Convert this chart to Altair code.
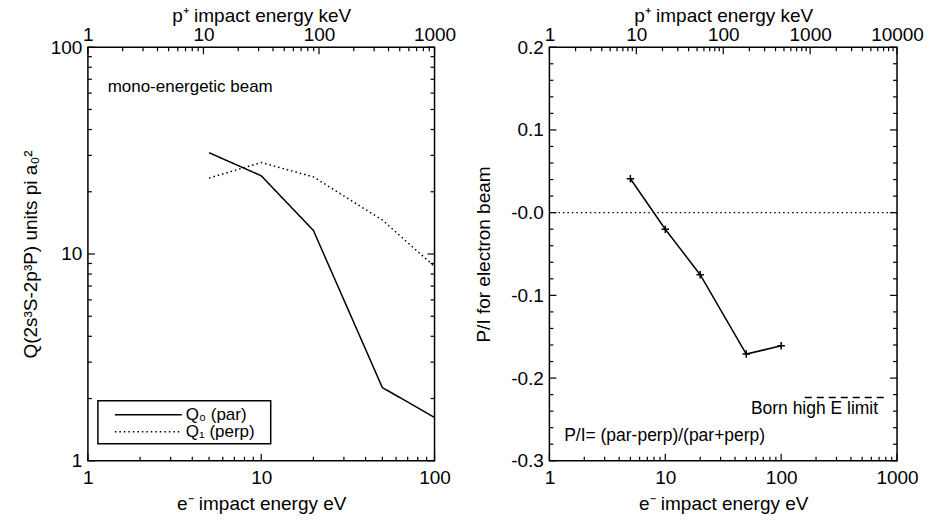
import altair as alt
import pandas as pd

FONT = "Liberation Sans"
H = 414
W_LEFT, W_RIGHT = 347, 348

# ---------------- data ----------------
# left panel: cross sections (units pi a0^2) vs e- impact energy (eV)
q_ev = [5, 10, 20, 50, 100]
q0_par = [30.9, 23.9, 13.0, 2.26, 1.62]
q1_perp = [23.3, 27.7, 23.6, 14.6, 8.7]
series_names = ["Q\u2080 (par)", "Q\u2081 (perp)"]

# right panel: polarisation P/I vs e- impact energy (eV)
pi_ev = [5, 10, 20, 50, 100]
pi_val = [0.041, -0.020, -0.075, -0.171, -0.161]
zero_ev = [1, 1000]
zero_val = [0.0, 0.0]
born_ev = [160, 800]
born_val = [-0.2235, -0.2235]

# axes
left_x_major = [1, 10, 100]
left_top_major = [1, 10, 100, 1000]
left_y_major = [1, 10, 100]
right_x_major = [1, 10, 100, 1000]
right_top_major = [1, 10, 100, 1000, 10000]
right_y_major = [-0.3, -0.2, -0.1, 0.0, 0.1, 0.2]
right_y_minor = [round(-0.3 + 0.02 * i, 2) for i in range(26) if i % 5 != 0]


def log_minor(majors):
    out = []
    for a in majors[:-1]:
        out += [a * m for m in range(2, 10)]
    return out


# tick symbol sizes (custom path spans sqrt(size)/2 px)
MAJ_SIZE, MIN_SIZE = 196, 64


def lab_axis(orient, values, title, fmt=None, label_expr=None, pad=4, tpad=4):
    kw = dict(orient=orient, values=values, ticks=False, domain=False,
              grid=False, labelFlush=False, labelOverlap=False,
              labelPadding=pad, titlePadding=tpad,
              labelFont=FONT, titleFont=FONT, labelFontSize=19, titleFontSize=19,
              titleFontWeight="normal", labelColor="black", titleColor="black")
    kw["title"] = title
    if label_expr is not None:
        kw["labelExpr"] = label_expr
    elif fmt is not None:
        kw["format"] = fmt
    return alt.Axis(**kw)


def dummy(x, y):
    return pd.DataFrame({"x": [x], "y": [y]})


def tick_mark(path, size):
    return dict(shape=path, size=size, stroke="black", strokeWidth=1.2, filled=False, opacity=1)


def x_ticks(vals, xscale, edge, yscale, path, size):
    d = pd.DataFrame({"v": vals, "e": [edge] * len(vals)})
    return alt.Chart(d).mark_point(**tick_mark(path, size)).encode(
        x=alt.X("v:Q", scale=xscale, axis=None), y=alt.Y("e:Q", scale=yscale, axis=None))


def y_ticks(vals, yscale, edge, xscale, path, size):
    d = pd.DataFrame({"v": vals, "e": [edge] * len(vals)})
    return alt.Chart(d).mark_point(**tick_mark(path, size)).encode(
        y=alt.Y("v:Q", scale=yscale, axis=None), x=alt.X("e:Q", scale=xscale, axis=None))


def panel(W, xdom, topdom, ydom, ylog, xmaj, topmaj, ymaj, ymin, ytitle, ylabexpr, ytpad, content):
    xs = alt.Scale(type="log", domain=xdom)
    ts = alt.Scale(type="log", domain=topdom)
    ys = alt.Scale(type="log", domain=ydom) if ylog else alt.Scale(type="linear", domain=ydom, zero=False, nice=False)
    yfmt = "d" if ylog else None
    base = alt.Chart(dummy(xdom[0], ydom[0])).mark_point(opacity=0)
    base_t = alt.Chart(dummy(topdom[0], ydom[0])).mark_point(opacity=0)
    layers = [
        base.encode(
            x=alt.X("x:Q", scale=xs, axis=lab_axis("bottom", xmaj, "e\u207b impact energy eV", fmt="d", pad=8, tpad=7)),
            y=alt.Y("y:Q", scale=ys, axis=lab_axis("left", ymaj, ytitle, fmt=yfmt, label_expr=ylabexpr, pad=6, tpad=ytpad))),
        base_t.encode(
            x=alt.X("x:Q", scale=ts, axis=lab_axis("top", topmaj, "p\u207a impact energy keV", fmt="d", pad=3, tpad=0))),
        # inward ticks: bottom (eV), top (keV), left and right edges
        x_ticks(xmaj, xs, ydom[0], ys, "M0,0V-1", MAJ_SIZE),
        x_ticks(log_minor(xmaj), xs, ydom[0], ys, "M0,0V-1", MIN_SIZE),
        x_ticks(topmaj, ts, ydom[1], ys, "M0,0V1", MAJ_SIZE),
        x_ticks(log_minor(topmaj), ts, ydom[1], ys, "M0,0V1", MIN_SIZE),
        y_ticks(ymaj, ys, xdom[0], xs, "M0,0H1", MAJ_SIZE),
        y_ticks(ymin, ys, xdom[0], xs, "M0,0H1", MIN_SIZE),
        y_ticks(ymaj, ys, xdom[1], xs, "M0,0H-1", MAJ_SIZE),
        y_ticks(ymin, ys, xdom[1], xs, "M0,0H-1", MIN_SIZE),
    ]
    layers += content(xs, ys)
    return alt.layer(*layers).resolve_scale(x="independent", y="independent").resolve_axis(
        x="independent", y="independent").properties(width=W, height=H)


def left_content(xs, ys):
    df = pd.DataFrame({
        "ev": q_ev + q_ev,
        "q": q0_par + q1_perp,
        "s": [series_names[0]] * len(q_ev) + [series_names[1]] * len(q_ev),
    })
    lines = alt.Chart(df).mark_line(color="black", strokeWidth=1.5).encode(
        x=alt.X("ev:Q", scale=xs, axis=None),
        y=alt.Y("q:Q", scale=ys, axis=None),
        strokeDash=alt.StrokeDash("s:N", scale=alt.Scale(domain=series_names, range=[[1, 0], [1.5, 3]]), legend=None),
    )
    note = alt.Chart(pd.DataFrame({"x": [1.30], "y": [64.0], "t": ["mono-energetic beam"]})).mark_text(
        align="left", baseline="middle", font=FONT, fontSize=17, color="black").encode(
        x=alt.X("x:Q", scale=xs, axis=None), y=alt.Y("y:Q", scale=ys, axis=None), text="t:N")
    one = pd.DataFrame({"a": [0]})
    box = alt.Chart(one).mark_rect(fill="white", stroke="black", strokeWidth=1.5).encode(
        x=alt.value(10), x2=alt.value(183), y=alt.value(354), y2=alt.value(397))
    leg_solid = alt.Chart(one).mark_rule(color="black", strokeWidth=1.5).encode(
        x=alt.value(27), x2=alt.value(94), y=alt.value(368))
    leg_dot = alt.Chart(one).mark_rule(color="black", strokeWidth=1.5, strokeDash=[1.5, 3]).encode(
        x=alt.value(27), x2=alt.value(94), y=alt.value(385))
    leg_t1 = alt.Chart(pd.DataFrame({"t": [series_names[0]]})).mark_text(
        align="left", baseline="middle", font=FONT, fontSize=17, color="black").encode(
        x=alt.value(98), y=alt.value(368), text="t:N")
    leg_t2 = alt.Chart(pd.DataFrame({"t": [series_names[1]]})).mark_text(
        align="left", baseline="middle", font=FONT, fontSize=17, color="black").encode(
        x=alt.value(98), y=alt.value(385.5), text="t:N")
    return [lines, note, box, leg_solid, leg_dot, leg_t1, leg_t2]


def right_content(xs, ys):
    dfp = pd.DataFrame({"ev": pi_ev, "p": pi_val})
    enc = dict(x=alt.X("ev:Q", scale=xs, axis=None), y=alt.Y("p:Q", scale=ys, axis=None))
    line = alt.Chart(dfp).mark_line(color="black", strokeWidth=1.5).encode(**enc)
    pts = alt.Chart(dfp).mark_point(shape="M-1,0H1M0,-1V1", size=56, stroke="black",
                                    strokeWidth=1.5, opacity=1, filled=False).encode(**enc)
    zero = alt.Chart(pd.DataFrame({"ev": zero_ev, "p": zero_val})).mark_line(
        color="black", strokeWidth=1.2, strokeDash=[1.5, 3]).encode(**enc)
    born = alt.Chart(pd.DataFrame({"ev": born_ev, "p": born_val})).mark_line(
        color="black", strokeWidth=1.5, strokeDash=[7, 5]).encode(**enc)
    notes = pd.DataFrame({"ev": [54.8, 1.34], "p": [-0.2376, -0.2698],
                          "t": ["Born high E limit", "P/I= (par-perp)/(par+perp)"]})
    txt = alt.Chart(notes).mark_text(align="left", baseline="middle", font=FONT, fontSize=17.5,
                                     color="black").encode(text="t:N", **enc)
    return [zero, born, line, pts, txt]


left = panel(W_LEFT, [1, 100], [1, 1000], [1, 100], True, left_x_major, left_top_major, left_y_major,
             log_minor(left_y_major), "Q(2s\u00b3S-2p\u00b3P) units pi a\u2080\u00b2", None, 10, left_content)

right_lab = ("datum.value == 0 ? '-0.0' : (datum.value < 0 ? '-' + format(-datum.value, '.1f') : "
             "format(datum.value, '.1f'))")
right = panel(W_RIGHT, [1, 1000], [1, 10000], [-0.3, 0.2], False, right_x_major, right_top_major, right_y_major,
              right_y_minor, "P/I for electron beam", right_lab, 17, right_content)

chart = alt.hconcat(left, right, spacing=17).properties(
    padding={"left": 20, "top": 5, "right": 5, "bottom": 5},
    background="white",
).configure_view(stroke="black", strokeWidth=1.5)

chart.save("out.html", embed_options={"renderer": "svg", "actions": False})
